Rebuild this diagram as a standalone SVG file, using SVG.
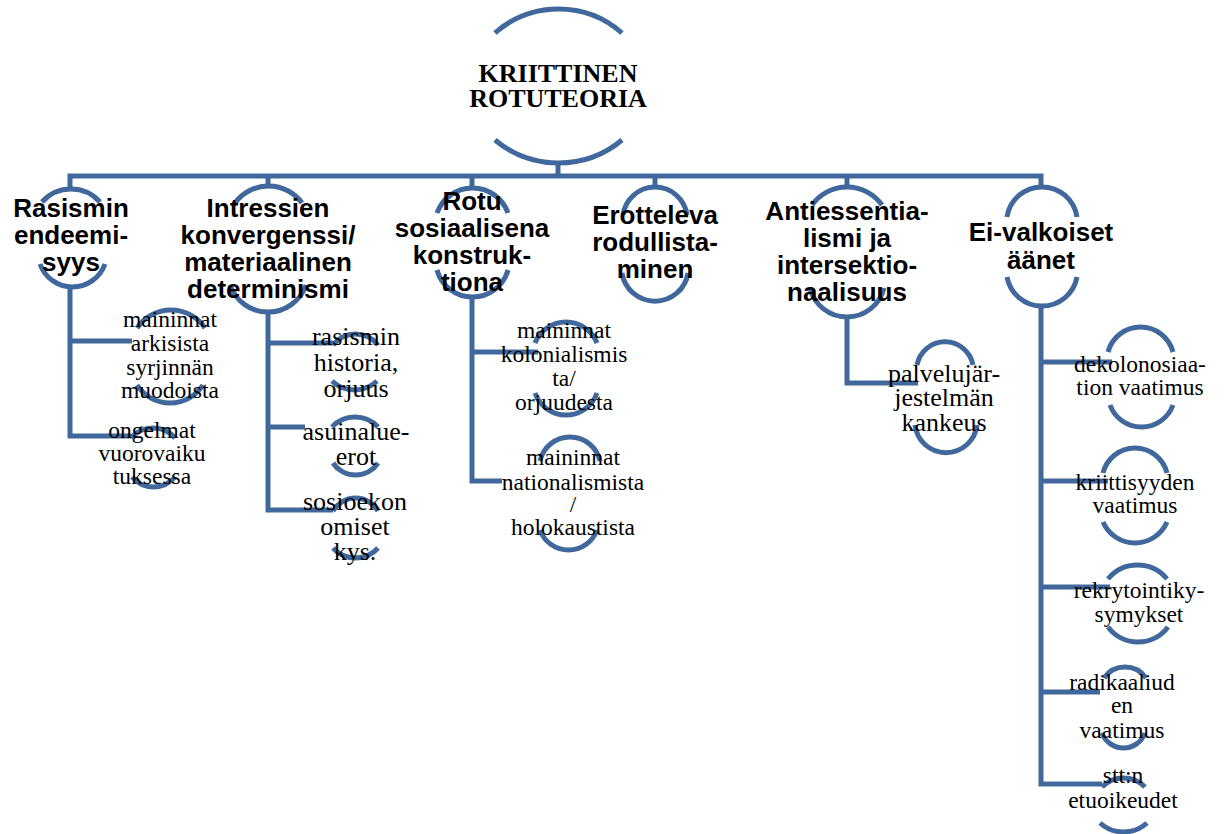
<svg xmlns="http://www.w3.org/2000/svg" width="1224" height="834" viewBox="0 0 1224 834">
<style>
.arc{fill:none;stroke:#41689C;stroke-width:5;stroke-linecap:butt}
.ln{fill:none;stroke:#41689C;stroke-width:5;stroke-linejoin:miter;stroke-linecap:butt}
.tt{font-family:"Liberation Serif","Times New Roman",serif;font-weight:bold;font-size:26px;fill:#000;text-anchor:middle}
.h1{font-family:"Liberation Sans",Arial,sans-serif;font-weight:bold;font-size:26px;fill:#000;text-anchor:middle}
.s{font-family:"Liberation Serif","Times New Roman",serif;font-size:23.5px;fill:#000;text-anchor:middle}
.s2{font-family:"Liberation Serif","Times New Roman",serif;font-size:26px;fill:#000;text-anchor:middle}
</style>
<rect width="1224" height="834" fill="#fff"/>
<g id="connectors">
<path class="ln" d="M558,161 V176"/>
<path class="ln" d="M70,190 V176 H1041 V188"/>
<path class="ln" d="M268,176 V187"/>
<path class="ln" d="M472,176 V189"/>
<path class="ln" d="M655,176 V188"/>
<path class="ln" d="M847,176 V188"/>
<path class="ln" d="M70,286 V436 H131"/>
<path class="ln" d="M70,341 H132"/>
<path class="ln" d="M268,311 V510 H333"/>
<path class="ln" d="M268,343 H333"/>
<path class="ln" d="M268,427 H305"/>
<path class="ln" d="M472,296 V481 H502"/>
<path class="ln" d="M472,352 H538"/>
<path class="ln" d="M847,316 V383 H918"/>
<path class="ln" d="M1041,305 V784 H1102"/>
<path class="ln" d="M1041,362 H1112"/>
<path class="ln" d="M1041,481 H1108"/>
<path class="ln" d="M1041,587 H1110"/>
<path class="ln" d="M1041,692 H1100"/>
</g>
<g id="root">
<path class="arc" d="M495,33 A96 96 0 0 1 622,33"/>
<path class="arc" d="M495,140 A99.2 99.2 0 0 0 622,140"/>
<text class="tt" x="558" y="82">KRIITTINEN</text>
<text class="tt" x="558" y="107">ROTUTEORIA</text>
</g>
<g id="n1">
<path class="arc" d="M42,202 A38.8 38.8 0 0 1 100,202"/>
<path class="arc" d="M40,264 A34.5 34.5 0 0 0 105,264"/>
<text class="h1" x="71" y="217">Rasismin</text>
<text class="h1" x="71" y="244">endeemi-</text>
<text class="h1" x="71" y="271">syys</text>
</g>
<g id="n2">
<path class="arc" d="M235,203 A41.5 41.5 0 0 1 302,203"/>
<path class="arc" d="M230,285 A40.2 40.2 0 0 0 306,285"/>
<text class="h1" x="268" y="217">Intressien</text>
<text class="h1" x="268" y="244">konvergenssi/</text>
<text class="h1" x="268" y="271">materiaalinen</text>
<text class="h1" x="268" y="298">determinismi</text>
</g>
<g id="n3">
<path class="arc" d="M437,213 A37.7 37.7 0 0 1 508,213"/>
<path class="arc" d="M437,270 A36.8 36.8 0 0 0 508,270"/>
<text class="h1" x="472" y="210">Rotu</text>
<text class="h1" x="472" y="237">sosiaalisena</text>
<text class="h1" x="472" y="264">konstruk-</text>
<text class="h1" x="472" y="291">tiona</text>
</g>
<g id="n4">
<path class="arc" d="M623,215 A32.3 32.3 0 0 1 687,215"/>
<path class="arc" d="M622,273 A33.4 33.4 0 0 0 688,273"/>
<text class="h1" x="655" y="224">Erotteleva</text>
<text class="h1" x="655" y="251">rodullista-</text>
<text class="h1" x="655" y="278">minen</text>
</g>
<g id="n5">
<path class="arc" d="M812,205 A43 43 0 0 1 882,205"/>
<path class="arc" d="M810,288 A38.1 38.1 0 0 0 884,288"/>
<text class="h1" x="847" y="220">Antiessentia-</text>
<text class="h1" x="847" y="247">lismi ja</text>
<text class="h1" x="847" y="274">intersektio-</text>
<text class="h1" x="847" y="301">naalisuus</text>
</g>
<g id="n6">
<path class="arc" d="M1007,217 A35.4 35.4 0 0 1 1077,217"/>
<path class="arc" d="M1007,277 A35.6 35.6 0 0 0 1077,277"/>
<text class="h1" x="1041" y="241">Ei-valkoiset</text>
<text class="h1" x="1041" y="269">äänet</text>
</g>
<g id="n1a">
<path class="arc" d="M137,328 A41.1 41.1 0 0 1 205,328"/>
<path class="arc" d="M137,385 A39.3 39.3 0 0 0 203,385"/>
<text class="s" x="170" y="327">maininnat</text>
<text class="s" x="170" y="351">arkisista</text>
<text class="s" x="170" y="375">syrjinnän</text>
<text class="s" x="170" y="398">muodoista</text>
</g>
<g id="n1b">
<path class="arc" d="M131,438 A29.2 29.2 0 0 1 175,438"/>
<path class="arc" d="M132,477 A28.1 28.1 0 0 0 175,477"/>
<text class="s" x="152" y="438">ongelmat</text>
<text class="s" x="152" y="461">vuorovaiku</text>
<text class="s" x="152" y="484">tuksessa</text>
</g>
<g id="n2a">
<path class="arc" d="M333,345 A28.5 28.5 0 0 1 378,345"/>
<path class="arc" d="M332,381 A32.6 32.6 0 0 0 377,381"/>
<text class="s2" x="356" y="345">rasismin</text>
<text class="s2" x="356" y="371">historia,</text>
<text class="s2" x="356" y="397">orjuus</text>
</g>
<g id="n2b">
<path class="arc" d="M332,427 A31.5 31.5 0 0 1 378,427"/>
<path class="arc" d="M333,463 A27 27 0 0 0 378,463"/>
<text class="s2" x="356" y="440">asuinalue-</text>
<text class="s2" x="356" y="465">erot</text>
</g>
<g id="n2c">
<path class="arc" d="M333,511 A26 26 0 0 1 378,511"/>
<path class="arc" d="M333,548 A30.3 30.3 0 0 0 378,548"/>
<text class="s2" x="355" y="510">sosioekon</text>
<text class="s2" x="355" y="535">omiset</text>
<text class="s2" x="355" y="560">kys.</text>
</g>
<g id="n3a">
<path class="arc" d="M535,343 A33.4 33.4 0 0 1 597,343"/>
<path class="arc" d="M535,393 A32.8 32.8 0 0 0 597,393"/>
<text class="s" x="564" y="338">maininnat</text>
<text class="s" x="564" y="362">kolonialismis</text>
<text class="s" x="564" y="386">ta/</text>
<text class="s" x="564" y="410">orjuudesta</text>
</g>
<g id="n3b">
<path class="arc" d="M540,461 A30.75 30.75 0 0 1 600,461"/>
<path class="arc" d="M540,530 A30.3 30.3 0 0 0 597,530"/>
<text class="s" x="573" y="465">maininnat</text>
<text class="s" x="573" y="490">nationalismista</text>
<text class="s" x="573" y="512">/</text>
<text class="s" x="573" y="535">holokaustista</text>
</g>
<g id="n5a">
<path class="arc" d="M917,365 A28.5 28.5 0 0 1 973,365"/>
<path class="arc" d="M915,425 A31.2 31.2 0 0 0 977,425"/>
<text class="s2" x="944" y="382">palvelujär-</text>
<text class="s2" x="944" y="406">jestelmän</text>
<text class="s2" x="944" y="431">kankeus</text>
</g>
<g id="n6a">
<path class="arc" d="M1108,352 A33.6 33.6 0 0 1 1173,352"/>
<path class="arc" d="M1110,405 A33.5 33.5 0 0 0 1173,405"/>
<text class="s" x="1140" y="372">dekolonosiaa-</text>
<text class="s" x="1140" y="395">tion vaatimus</text>
</g>
<g id="n6b">
<path class="arc" d="M1103,473 A33 33 0 0 1 1167,473"/>
<path class="arc" d="M1103,522 A34.9 34.9 0 0 0 1167,522"/>
<text class="s" x="1135" y="490">kriittisyyden</text>
<text class="s" x="1135" y="513">vaatimus</text>
</g>
<g id="n6c">
<path class="arc" d="M1108,579 A38.1 38.1 0 0 1 1167,579"/>
<path class="arc" d="M1108,627 A37.5 37.5 0 0 0 1168,627"/>
<text class="s" x="1139" y="598">rekrytointiky-</text>
<text class="s" x="1139" y="622">symykset</text>
</g>
<g id="n6d">
<path class="arc" d="M1104,678 A25.5 25.5 0 0 1 1146,678"/>
<path class="arc" d="M1102,733 A22.9 22.9 0 0 0 1145,733"/>
<text class="s" x="1122" y="690">radikaaliud</text>
<text class="s" x="1122" y="713">en</text>
<text class="s" x="1122" y="738">vaatimus</text>
</g>
<g id="n6e">
<path class="arc" d="M1102,787 A30.2 30.2 0 0 1 1145,787"/>
<path class="arc" d="M1100,823 A35.2 35.2 0 0 0 1147,823"/>
<text class="s" x="1123" y="783">stt:n</text>
<text class="s" x="1123" y="808">etuoikeudet</text>
</g>
</svg>
